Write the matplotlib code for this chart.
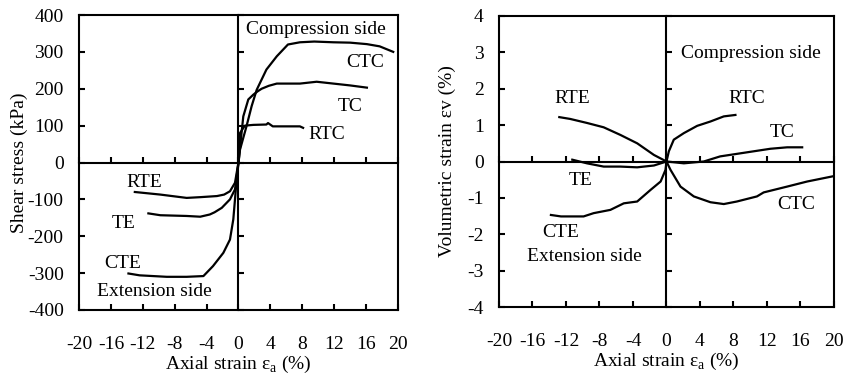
"""
Stress-strain and volumetric strain curves for the six stress paths
(compression side: CTC, TC, RTC; extension side: CTE, TE, RTE)
"""
import matplotlib
matplotlib.use("Agg")
import matplotlib.pyplot as plt

plt.rcParams['font.family'] = ['Liberation Serif', 'DejaVu Serif']
plt.rcParams['mathtext.fontset'] = 'custom'
plt.rcParams['mathtext.rm'] = 'Liberation Serif'
plt.rcParams['font.size'] = 14

# ---- shear stress (kPa) vs axial strain (%) ----
ctc_ea = [0, 0.19, 1.0, 1.65, 2.28, 3.5, 4.8, 6.2, 7.7, 9.5, 11.9, 14.0, 16.1, 17.7, 19.4]
ctc_q = [0, 35, 98, 153, 197, 252, 288, 320, 326, 328, 326, 325, 321, 315, 300]
tc_ea = [0, 0.6, 1.23, 1.86, 2.4, 2.9, 3.8, 4.8, 7.7, 9.8, 11.9, 14.0, 16.1]
tc_q = [0, 125, 171, 184, 193, 200, 208, 214, 214, 219, 214, 209, 203]
rtc_ea = [0, 0.19, 0.8, 1.86, 3.5, 3.7, 4.3, 6.0, 7.7, 8.1]
rtc_q = [0, 80, 100, 102, 103, 107, 98, 98, 98, 94]
rte_ea = [0, -0.15, -0.44, -1.07, -1.8, -2.7, -4.8, -6.5, -9.8, -13.0]
rte_q = [0, -18, -55, -78, -87, -91, -94, -96, -87, -80]
te_ea = [0, -0.44, -1.07, -2.1, -3.0, -3.6, -4.8, -6.5, -9.8, -11.3]
te_q = [0, -73, -100, -123, -135, -141, -147, -145, -143, -138]
cte_ea = [0, -0.3, -0.65, -1.07, -1.9, -3.2, -4.4, -6.5, -9.0, -12.4, -13.8]
cte_q = [0, -64, -154, -209, -245, -281, -308, -310, -310, -306, -301]

# ---- volumetric strain (%) vs axial strain (%) ----
rte_ev_ea = [0, -1.5, -3.5, -5.5, -7.5, -9.5, -11.5, -12.8]
rte_ev = [0, 0.18, 0.50, 0.73, 0.94, 1.06, 1.17, 1.22]
te_ev_ea = [0, -1.5, -3.5, -5.5, -7.5, -9.5, -11.25]
te_ev = [0, -0.11, -0.16, -0.14, -0.14, -0.05, 0.05]
cte_ev_ea = [0, -0.12, -0.7, -1.9, -3.5, -5.1, -6.7, -8.7, -9.9, -11.05, -12.6, -13.8]
cte_ev = [0, -0.23, -0.55, -0.78, -1.10, -1.15, -1.33, -1.42, -1.51, -1.51, -1.51, -1.47]
rtc_ev_ea = [0, 0.28, 0.87, 2.07, 3.66, 5.25, 6.84, 8.23]
rtc_ev = [0, 0.28, 0.60, 0.78, 0.98, 1.10, 1.24, 1.28]
tc_ev_ea = [0, 2.07, 4.45, 6.4, 8.4, 10.4, 12.4, 14.4, 16.2]
tc_ev = [0, -0.05, 0, 0.14, 0.21, 0.28, 0.35, 0.39, 0.39]
ctc_ev_ea = [0, 0.48, 1.67, 3.26, 5.25, 6.84, 8.4, 10.8, 11.6, 14.4, 16.8, 19.8]
ctc_ev = [0, -0.23, -0.69, -0.96, -1.12, -1.17, -1.10, -0.96, -0.85, -0.69, -0.55, -0.41]

x_ticks = [-20, -16, -12, -8, -4, 0, 4, 8, 12, 16, 20]
q_ticks = [-400, -300, -200, -100, 0, 100, 200, 300, 400]
ev_ticks = [-4, -3, -2, -1, 0, 1, 2, 3, 4]

fig = plt.figure(figsize=(8.45, 3.84), dpi=100)


def setup_axes(rect, yticks, ylabel, ylabelpad):
    ax = fig.add_axes(rect)
    ax.set_xlim(-20, 20)
    ax.set_ylim(yticks[0], yticks[-1])
    ax.set_xticks(x_ticks)
    ax.set_yticks(yticks)
    ax.set_xticklabels([str(t) for t in x_ticks])
    ax.set_yticklabels([str(t) for t in yticks])
    ax.tick_params(direction='in', length=4.5, width=1.5, pad=19, axis='x')
    ax.tick_params(direction='in', length=4.5, width=1.5, pad=11, axis='y')
    for s in ax.spines.values():
        s.set_linewidth(1.5)
    ax.set_xlabel(r'Axial strain ε$_{\rm a}$ (%)', labelpad=0)
    ax.set_ylabel(ylabel, labelpad=ylabelpad)

    # overlay axes whose spines sit on the zero lines, with inward ticks
    ov = fig.add_axes(rect, sharex=ax, sharey=ax, frameon=True)
    ov.patch.set_visible(False)
    ov.spines['left'].set_position('zero')
    ov.spines['bottom'].set_position('zero')
    ov.spines['right'].set_visible(False)
    ov.spines['top'].set_visible(False)
    ov.spines['left'].set_linewidth(1.5)
    ov.spines['bottom'].set_linewidth(1.5)
    ov.tick_params(direction='in', length=4.5, width=1.5,
                   labelbottom=False, labelleft=False)
    return ov


style = dict(color='black', lw=1.6)

# left panel: shear stress
ax1 = setup_axes([79 / 845, 74 / 384, 319 / 845, 295 / 384],
                 q_ticks, 'Shear stress (kPa)', 0)
for xs, ys in [(ctc_ea, ctc_q), (tc_ea, tc_q), (rtc_ea, rtc_q),
               (rte_ea, rte_q), (te_ea, te_q), (cte_ea, cte_q)]:
    ax1.plot(xs, ys, **style)
ax1.text(9.7, 360, 'Compression side', ha='center', va='center')
ax1.text(15.9, 270, 'CTC', ha='center', va='center')
ax1.text(14.0, 153, 'TC', ha='center', va='center')
ax1.text(11.1, 76, 'RTC', ha='center', va='center')
ax1.text(-11.8, -55, 'RTE', ha='center', va='center')
ax1.text(-14.4, -165, 'TE', ha='center', va='center')
ax1.text(-14.5, -274, 'CTE', ha='center', va='center')
ax1.text(-10.6, -350, 'Extension side', ha='center', va='center')

# right panel: volumetric strain
ax2 = setup_axes([499 / 845, 77 / 384, 335 / 845, 291 / 384],
                 ev_ticks, 'Volumetric strain εv (%)', 8)
for xs, ys in [(rte_ev_ea, rte_ev), (te_ev_ea, te_ev), (cte_ev_ea, cte_ev),
               (rtc_ev_ea, rtc_ev), (tc_ev_ea, tc_ev), (ctc_ev_ea, ctc_ev)]:
    ax2.plot(xs, ys, **style)
ax2.text(10.1, 2.98, 'Compression side', ha='center', va='center')
ax2.text(9.6, 1.74, 'RTC', ha='center', va='center')
ax2.text(13.8, 0.80, 'TC', ha='center', va='center')
ax2.text(15.5, -1.17, 'CTC', ha='center', va='center')
ax2.text(-11.25, 1.74, 'RTE', ha='center', va='center')
ax2.text(-10.3, -0.53, 'TE', ha='center', va='center')
ax2.text(-12.6, -1.94, 'CTE', ha='center', va='center')
ax2.text(-9.86, -2.61, 'Extension side', ha='center', va='center')

fig.savefig('out.png', dpi=100)
